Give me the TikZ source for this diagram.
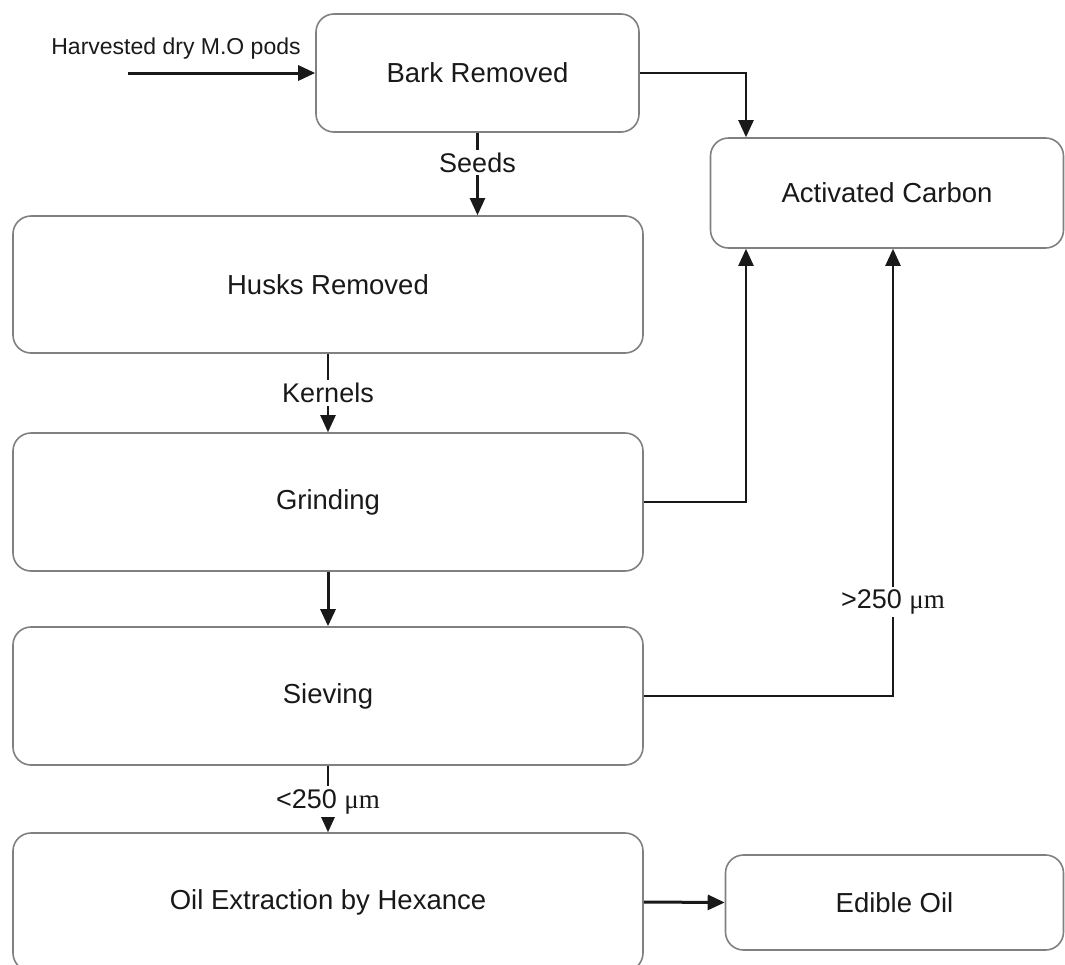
\documentclass[tikz,border=0pt]{standalone}
\usepackage{fontspec}
\setmainfont{Liberation Sans}
\newfontfamily\serifmu{Liberation Serif}
\usetikzlibrary{arrows.meta}
\begin{document}
\begin{tikzpicture}[x=1pt,y=-1pt,
  box/.style={draw=black!50, line width=1.6pt, rounded corners=18pt, inner sep=0pt, align=center, font=\fontsize{27.5}{32}\selectfont, text=black!90},
  conn/.style={draw=black!90, line width=2.3pt, -{Triangle[length=17pt,width=15pt]}},
  bigconn/.style={conn, line width=3pt},
  lbl/.style={fill=white, inner sep=3pt, font=\fontsize{27}{32}\selectfont, text=black!90}]
\useasboundingbox (0,0) rectangle (1065,964);
\node[box, minimum width=323pt, minimum height=118pt] (bark) at (477.5,73) {Bark Removed};
\node[box, minimum width=630pt, minimum height=137pt] (husks) at (328,284.5) {Husks Removed};
\node[box, minimum width=630pt, minimum height=138pt] (grind) at (328,502) {Grinding};
\node[box, minimum width=630pt, minimum height=138pt] (sieve) at (328,696) {Sieving};
\node[box, minimum width=630pt, minimum height=138pt] (oil) at (328,902) {Oil Extraction by Hexance};
\node[box, minimum width=353pt, minimum height=110pt] (act) at (887,193) {Activated Carbon};
\node[box, minimum width=338pt, minimum height=95pt] (edible) at (894.5,902.5) {Edible Oil};
\node[font=\fontsize{23}{28}\selectfont, text=black!90] (harv) at (176,49) {Harvested dry M.O pods};
\coordinate (start) at (128,73);
\coordinate (ca) at (746,0);
\coordinate (cb) at (893,0);
\draw[bigconn] (start) -- (bark.west);
\draw[conn] (bark.east) -| (ca |- act.north);
\draw[conn] (bark.south) -- node[lbl, pos=0.36] {Seeds} (bark.south |- husks.north);
\draw[conn] (husks.south) -- node[lbl, pos=0.5] {Kernels} (grind.north);
\draw[bigconn] (grind.south) -- (sieve.north);
\draw[conn] (grind.east) -| (ca |- act.south);
\draw[conn] (sieve.east) -| node[lbl, pos=0.605] {>250 {\serifmu μm}} (cb |- act.south);
\draw[conn] (sieve.south) -- node[lbl, pos=0.54] {<250 {\serifmu μm}} (oil.north);
\draw[bigconn] (oil.east) -- (edible.west);
\end{tikzpicture}
\end{document}
